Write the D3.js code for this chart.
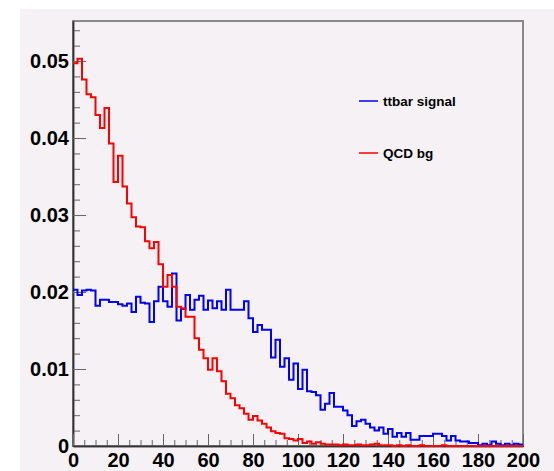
<!DOCTYPE html>
<html>
<head>
<meta charset="utf-8">
<script src="https://cdn.jsdelivr.net/npm/d3@7"></script>
<style>
  body { margin: 0; background: #fff; }
  svg text { font-family: "Liberation Sans", Arial, sans-serif; font-weight: bold; }
</style>
</head>
<body>
<div id="hist"></div>
<script>
var width = 554,
  height = 471;

// bin edges: 100 bins of width 2 from 0 to 200
var binLow = 0, binWidth = 2;

// ttbar signal (blue), normalised bin contents
var signal = [
  0.0203, 0.0196, 0.0202, 0.0203, 0.0202, 0.0182, 0.0190, 0.0190, 0.0187, 0.0187,
  0.0184, 0.0182, 0.0185, 0.0174, 0.0194, 0.0186, 0.0185, 0.0161, 0.0188, 0.0207,
  0.0188, 0.0181, 0.0224, 0.0163, 0.0178, 0.0196, 0.0177, 0.0190, 0.0195, 0.0177,
  0.0189, 0.0179, 0.0188, 0.0177, 0.0203, 0.0177, 0.0177, 0.0177, 0.0188, 0.0166,
  0.0148, 0.0157, 0.0151, 0.0151, 0.0115, 0.0138, 0.0103, 0.0114, 0.0086, 0.0107,
  0.0074, 0.0099, 0.0071, 0.0070, 0.0066, 0.0047, 0.0055, 0.0069, 0.0051, 0.0051,
  0.0046, 0.0040, 0.0026, 0.0032, 0.0034, 0.0029, 0.0024, 0.0020, 0.0024, 0.0016,
  0.0022, 0.0012, 0.0017, 0.0012, 0.0017, 0.0008, 0.0008, 0.0013, 0.0013, 0.0013,
  0.0016, 0.0016, 0.0013, 0.0007, 0.0013, 0.0007, 0.0006, 0.0006, 0.0004, 0.0004,
  0.0001, 0.0003, 0.0001, 0.0006, 0.0003, 0.0001, 0.0003, 0.0001, 0.0003, 0.0002
];

// QCD background (red)
var background = [
  0.0497, 0.0503, 0.0476, 0.0457, 0.0453, 0.0430, 0.0413, 0.0439, 0.0393, 0.0343,
  0.0377, 0.0337, 0.0315, 0.0297, 0.0285, 0.0284, 0.0266, 0.0257, 0.0265, 0.0236,
  0.0207, 0.0222, 0.0207, 0.0181, 0.0179, 0.0168, 0.0168, 0.0140, 0.0125, 0.0114,
  0.0099, 0.0114, 0.0097, 0.0084, 0.0068, 0.0062, 0.0053, 0.0049, 0.0042, 0.0034,
  0.0039, 0.0033, 0.0029, 0.0024, 0.0019, 0.0017, 0.0016, 0.0010, 0.0009, 0.0007,
  0.0009, 0.0004, 0.0006, 0.0003, 0.0005, 0.0003, 0.0002, 0.0002, 0.0002, 0.0001,
  0.0002, 0.0001, 0.0001, 0.0002, 0.0001, 0.0001, 0.0002, 0.0003, 0.0001, 0.0001,
  0.0001, 0.0000, 0.0001, 0.0000, 0.0001, 0.0000, 0.0000, 0.0001, 0.0000, 0.0000,
  0.0000, 0.0000, 0.0001, 0.0000, 0.0000, 0.0000, 0.0000, 0.0000, 0.0000, 0.0000,
  0.0000, 0.0000, 0.0000, 0.0000, 0.0000, 0.0000, 0.0000, 0.0000, 0.0000, 0.0000
];

var xTicks = [0, 20, 40, 60, 80, 100, 120, 140, 160, 180, 200];
var yTicks = [0, 0.01, 0.02, 0.03, 0.04, 0.05];
var legendLabels = ['ttbar signal', 'QCD bg'];
var legendColors = ['#0000ff', '#ff0000'];

var x = d3.scaleLinear()
  .domain([0, 200])
  .range([73, 523]);

var y = d3.scaleLinear()
  .domain([0, 0.0552])
  .range([446, 21]);

var svg = d3.select('#hist').append('svg')
  .attr('width', width)
  .attr('height', height);

// pad colour
svg.append('rect')
  .attr('x', 20)
  .attr('y', 9)
  .attr('width', width - 20)
  .attr('height', height - 9)
  .attr('fill', '#f5f1f5');

// frame
svg.append('rect')
  .attr('x', x(0))
  .attr('y', y(0.0552))
  .attr('width', x(200) - x(0))
  .attr('height', y(0) - y(0.0552))
  .attr('fill', 'none')
  .attr('stroke', '#8a8a8a')
  .attr('stroke-width', 2);

function minorAxis(axis, vals, size) {
  return axis.tickValues(vals).tickSizeInner(size).tickSizeOuter(0).tickFormat('');
}

// y axis minor ticks
svg.append('g')
  .attr('class', 'axis')
  .attr('transform', 'translate(' + x(0) + ',0)')
  .call(minorAxis(d3.axisLeft(y), d3.range(0, 0.0551, 0.002), -7));

// y axis major ticks + labels
svg.append('g')
  .attr('class', 'axis')
  .attr('transform', 'translate(' + x(0) + ',0)')
  .call(d3.axisLeft(y)
    .tickValues(yTicks)
    .tickSizeInner(-13)
    .tickSizeOuter(0)
    .tickPadding(4)
    .tickFormat(function(d) {
      return d === 0 ? '0' : d3.format('.2f')(d);
    }));

// x axis minor ticks
svg.append('g')
  .attr('class', 'axis')
  .attr('transform', 'translate(0,' + y(0) + ')')
  .call(minorAxis(d3.axisBottom(x), d3.range(0, 201, 5), -6));

// x axis major ticks + labels
svg.append('g')
  .attr('class', 'axis')
  .attr('transform', 'translate(0,' + y(0) + ')')
  .call(d3.axisBottom(x)
    .tickValues(xTicks)
    .tickSizeInner(-12)
    .tickSizeOuter(0)
    .tickPadding(7)
    .tickFormat(d3.format('d')));

svg.selectAll('.axis .domain').attr('stroke', '#333').attr('stroke-width', 1.5);
svg.selectAll('.axis .tick line').attr('stroke', '#666');
svg.selectAll('.axis text')
  .attr('fill', '#000')
  .style('font-size', '20px');

// histograms as step outlines
function stepPoints(vals) {
  var pts = [];
  vals.forEach(function(v, i) {
    var lo = binLow + i * binWidth;
    pts.push([lo, v]);
    pts.push([lo + binWidth, v]);
  });
  return pts;
}

var line = d3.line()
  .x(function(d) { return x(d[0]); })
  .y(function(d) { return y(d[1]); });

[signal, background].forEach(function(series, k) {
  svg.append('path')
    .datum(stepPoints(series))
    .attr('d', line)
    .attr('fill', 'none')
    .attr('stroke', legendColors[k])
    .attr('stroke-width', 2)
    .attr('stroke-linejoin', 'miter');
});

// legend
var legend = svg.append('g').attr('class', 'legend');
legendLabels.forEach(function(label, i) {
  var ly = 101 + i * 52;
  legend.append('line')
    .attr('x1', 359)
    .attr('x2', 378)
    .attr('y1', ly)
    .attr('y2', ly)
    .attr('stroke', legendColors[i])
    .attr('stroke-width', 1.5);
  legend.append('text')
    .attr('x', 383)
    .attr('y', ly)
    .attr('dy', '0.35em')
    .style('font-size', '13.5px')
    .attr('fill', '#000')
    .text(label);
});
</script>
</body>
</html>
